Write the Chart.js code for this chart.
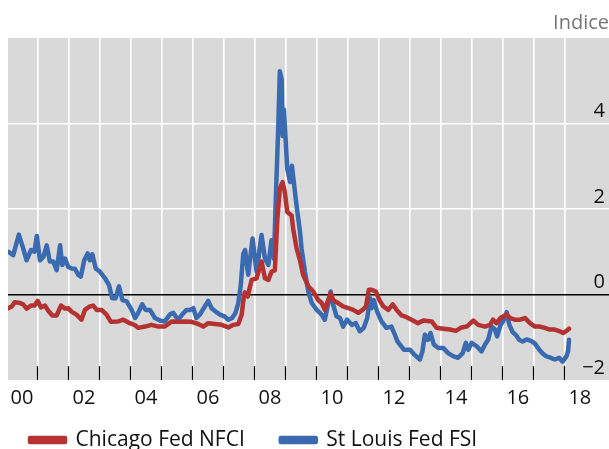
<!DOCTYPE html>
<html>
<head>
<meta charset="utf-8">
<script src="https://cdn.jsdelivr.net/npm/chart.js@4.4.1/dist/chart.umd.min.js"></script>
<style>
  html, body { margin: 0; padding: 0; background: #fff; }
  #wrap { width: 609px; height: 449px; position: relative; }
</style>
</head>
<body>
<div id="wrap"><canvas id="c" width="609" height="449"></canvas></div>
<script>
// ---- Data (decimal year, index value) ----
const nfciYears = [1999.56,1999.67,1999.77,1999.94,2000.04,2000.15,2000.29,2000.40,2000.51,2000.61,2000.74,2000.85,2000.98,2001.12,2001.26,2001.39,2001.49,2001.60,2001.76,2001.92,2002.03,2002.19,2002.30,2002.41,2002.57,2002.73,2002.87,2003.11,2003.27,2003.48,2003.65,2003.75,2003.97,2004.18,2004.40,2004.61,2004.83,2005.04,2005.26,2005.47,2005.69,2005.85,2006.01,2006.23,2006.44,2006.66,2006.82,2006.98,2007.09,2007.15,2007.19,2007.28,2007.41,2007.57,2007.73,2007.84,2007.95,2008.05,2008.16,2008.24,2008.32,2008.41,2008.48,2008.56,2008.70,2008.75,2008.86,2008.97,2009.07,2009.24,2009.40,2009.56,2009.67,2009.77,2009.88,2009.96,2010.04,2010.20,2010.36,2010.53,2010.69,2010.85,2010.99,2011.10,2011.19,2011.28,2011.42,2011.53,2011.66,2011.82,2011.96,2012.09,2012.25,2012.41,2012.57,2012.78,2012.95,2013.22,2013.38,2013.59,2013.81,2014.00,2014.18,2014.35,2014.56,2014.72,2014.94,2015.10,2015.20,2015.31,2015.44,2015.58,2015.64,2015.75,2015.90,2016.07,2016.23,2016.39,2016.55,2016.71,2016.87,2017.03,2017.19,2017.35,2017.46,2017.57,2017.65];
const nfciValues = [-0.32,-0.28,-0.18,-0.20,-0.23,-0.33,-0.26,-0.26,-0.15,-0.30,-0.26,-0.38,-0.49,-0.49,-0.26,-0.33,-0.32,-0.40,-0.47,-0.59,-0.36,-0.28,-0.26,-0.36,-0.36,-0.47,-0.64,-0.63,-0.59,-0.67,-0.72,-0.78,-0.75,-0.71,-0.75,-0.75,-0.63,-0.64,-0.63,-0.64,-0.69,-0.75,-0.67,-0.69,-0.71,-0.77,-0.71,-0.69,-0.47,-0.10,0.05,-0.05,0.34,0.38,0.77,0.38,0.34,0.53,0.57,1.77,2.47,2.63,2.40,1.93,1.85,1.54,1.08,0.80,0.46,0.19,0.07,-0.13,-0.20,-0.36,-0.13,0.03,-0.13,-0.20,-0.28,-0.32,-0.36,-0.43,-0.36,-0.28,0.11,0.11,0.07,-0.13,-0.28,-0.36,-0.23,-0.36,-0.49,-0.53,-0.59,-0.67,-0.61,-0.63,-0.78,-0.80,-0.82,-0.85,-0.77,-0.75,-0.61,-0.71,-0.75,-0.71,-0.59,-0.67,-0.55,-0.49,-0.47,-0.55,-0.59,-0.59,-0.55,-0.67,-0.75,-0.75,-0.78,-0.82,-0.82,-0.86,-0.90,-0.85,-0.80];

const fsiYears = [1999.56,1999.72,1999.90,2000.04,2000.15,2000.29,2000.40,2000.48,2000.58,2000.69,2000.80,2000.90,2001.01,2001.12,2001.23,2001.30,2001.39,2001.49,2001.60,2001.71,2001.82,2001.90,2002.01,2002.12,2002.19,2002.27,2002.38,2002.52,2002.68,2002.81,2002.91,2003.02,2003.13,2003.24,2003.38,2003.54,2003.65,2003.75,2003.88,2003.99,2004.13,2004.29,2004.45,2004.61,2004.77,2004.88,2005.04,2005.17,2005.31,2005.42,2005.53,2005.63,2005.74,2005.90,2006.01,2006.12,2006.25,2006.39,2006.53,2006.66,2006.78,2006.89,2006.98,2007.06,2007.14,2007.20,2007.30,2007.44,2007.57,2007.73,2007.84,2007.95,2008.05,2008.13,2008.19,2008.27,2008.32,2008.38,2008.41,2008.45,2008.50,2008.56,2008.65,2008.71,2008.77,2008.86,2008.97,2009.02,2009.13,2009.24,2009.35,2009.51,2009.67,2009.77,2009.85,2009.96,2010.04,2010.15,2010.26,2010.36,2010.49,2010.64,2010.77,2010.90,2011.03,2011.14,2011.23,2011.28,2011.35,2011.46,2011.60,2011.76,2011.92,2012.03,2012.11,2012.32,2012.52,2012.65,2012.84,2012.92,2013.00,2013.10,2013.18,2013.29,2013.43,2013.59,2013.75,2013.91,2014.07,2014.22,2014.32,2014.40,2014.51,2014.67,2014.83,2014.94,2015.04,2015.15,2015.26,2015.33,2015.44,2015.53,2015.64,2015.72,2015.83,2015.94,2016.04,2016.15,2016.28,2016.44,2016.55,2016.69,2016.80,2016.90,2017.03,2017.19,2017.33,2017.44,2017.57,2017.62,2017.65];
const fsiValues = [1.00,0.92,1.40,1.08,0.80,1.04,1.00,1.37,0.80,0.88,1.15,0.77,0.77,0.57,1.15,0.69,0.84,0.65,0.61,0.60,0.46,0.42,0.80,0.96,0.80,0.94,0.61,0.53,0.38,0.22,-0.09,-0.09,0.19,-0.13,-0.16,-0.36,-0.55,-0.43,-0.23,-0.36,-0.36,-0.55,-0.61,-0.63,-0.47,-0.43,-0.59,-0.47,-0.36,-0.36,-0.32,-0.55,-0.47,-0.28,-0.15,-0.32,-0.40,-0.47,-0.51,-0.59,-0.55,-0.43,-0.20,0.22,0.95,1.04,0.46,1.31,0.53,1.39,0.84,0.69,1.27,0.84,2.24,3.94,5.22,5.03,3.71,4.33,3.71,2.94,2.63,3.01,2.63,2.08,1.47,1.08,0.53,0.07,-0.20,-0.36,-0.47,-0.59,-0.32,0.07,-0.24,-0.51,-0.55,-0.75,-0.59,-0.71,-0.67,-0.86,-0.78,-0.55,-0.09,-0.32,-0.13,-0.40,-0.63,-0.78,-0.75,-0.94,-1.09,-1.29,-1.29,-1.40,-1.52,-1.33,-0.94,-1.06,-0.90,-1.17,-1.25,-1.25,-1.37,-1.44,-1.48,-1.37,-1.13,-1.29,-1.13,-1.21,-1.33,-1.17,-1.06,-0.75,-0.82,-0.98,-0.71,-0.62,-0.41,-0.70,-0.88,-0.95,-1.06,-1.10,-1.05,-1.09,-1.15,-1.29,-1.38,-1.44,-1.47,-1.52,-1.48,-1.57,-1.44,-1.33,-1.06];

const seriesNames = ['Chicago Fed NFCI', 'St Louis Fed FSI'];
const yTickValues = [-2, 0, 2, 4];
const xLabelYears = [2000, 2002, 2004, 2006, 2008, 2010, 2012, 2014, 2016, 2018];
const unitLabel = 'Indice';

// ---- Styling ----
const RED = '#B43232';
const BLUE = '#3A6AB0';
const FONT = "'Open Sans', 'Noto Sans', sans-serif";
const FS = 20;
const LFS = 21;

const toPoints = (xs, ys) => xs.map((x, i) => ({x: x, y: ys[i]}));

const bgPlugin = {
  id: 'bg',
  beforeDraw(chart) {
    const {ctx, chartArea: a} = chart;
    ctx.save();
    ctx.fillStyle = '#D9D9D9';
    ctx.fillRect(a.left, a.top, a.right - a.left, a.bottom - a.top);
    ctx.restore();
  }
};

const innerTicks = {
  id: 'innerTicks',
  afterDraw(chart) {
    const {ctx, chartArea: a, scales: {x}} = chart;
    ctx.save();
    ctx.strokeStyle = '#000';
    ctx.lineWidth = 1.2;
    x.ticks.forEach(t => {
      if (Math.abs(t.value % 1 - 0.5) < 1e-6) {
        const px = Math.round(x.getPixelForValue(t.value)) + 0.5;
        ctx.beginPath();
        ctx.moveTo(px, a.bottom);
        ctx.lineTo(px, a.bottom - 14);
        ctx.stroke();
      }
    });
    ctx.restore();
  }
};

const legendShift = {
  id: 'legendShift',
  afterLayout(chart) {
    const lg = chart.legend;
    if (!lg) return;
    const pad = lg.options.labels.padding;
    lg.left = 30 - pad;
    lg.top = 442 - pad - LFS * 1.2 / 2;
  }
};

new Chart(document.getElementById('c'), {
  type: 'line',
  data: {
    datasets: [
      { label: seriesNames[0], data: toPoints(nfciYears, nfciValues), borderColor: RED, backgroundColor: RED },
      { label: seriesNames[1], data: toPoints(fsiYears, fsiValues), borderColor: BLUE, backgroundColor: BLUE }
    ]
  },
  options: {
    responsive: false,
    animation: false,
    elements: {
      point: { radius: 0 },
      line: { borderWidth: 4.5, tension: 0, borderJoinStyle: 'round', borderCapStyle: 'round' }
    },
    layout: { padding: { left: 8, right: 0, top: 0, bottom: 0 } },
    scales: {
      x: {
        type: 'linear',
        min: 1999.55,
        max: 2018.94,
        afterBuildTicks(scale) {
          const t = [];
          for (let v = 2000; v <= 2018.001; v += 0.5) t.push({value: Math.round(v * 2) / 2});
          scale.ticks = t;
        },
        ticks: {
          autoSkip: false,
          maxRotation: 0,
          padding: 6,
          color: '#111',
          font: { family: FONT, size: FS },
          callback: (v) => xLabelYears.includes(v) ? String(v % 100).padStart(2, '0') : ''
        },
        grid: {
          drawTicks: false,
          color: (c) => (c.tick && Math.abs(c.tick.value % 1 - 0.5) < 1e-6) ? '#FFFFFF' : 'rgba(0,0,0,0)',
          lineWidth: 1.6
        },
        border: { display: false }
      },
      y: {
        position: 'right',
        min: -2,
        max: 6,
        afterBuildTicks(scale) {
          scale.ticks = yTickValues.concat([6]).map(v => ({value: v}));
        },
        afterFit(scale) { scale.width = 0; },
        ticks: {
          mirror: true,
          padding: -4,
          labelOffset: -12,
          color: '#111',
          font: { family: FONT, size: FS },
          callback: (v) => yTickValues.includes(v) ? (v < 0 ? '\u2212' + Math.abs(v) : String(v)) : ''
        },
        grid: {
          drawTicks: false,
          color: (c) => {
            const v = c.tick ? c.tick.value : null;
            if (v === 0) return '#000000';
            if (v === 2 || v === 4) return '#FFFFFF';
            return 'rgba(0,0,0,0)';
          },
          lineWidth: (c) => (c.tick && c.tick.value === 0) ? 1.4 : 1.6
        },
        border: { display: false }
      }
    },
    plugins: {
      title: {
        display: true,
        text: unitLabel,
        align: 'end',
        color: '#777777',
        font: { family: FONT, size: FS, weight: 'normal' },
        padding: { top: 11, bottom: 3 }
      },
      legend: {
        display: true,
        position: 'bottom',
        align: 'start',
        maxHeight: 33,
        labels: {
          boxWidth: 35,
          boxHeight: 4,
          padding: 36,
          color: '#111',
          font: { family: FONT, size: LFS }
        }
      },
      tooltip: { enabled: false }
    }
  },
  plugins: [bgPlugin, innerTicks, legendShift]
});
</script>
</body>
</html>
